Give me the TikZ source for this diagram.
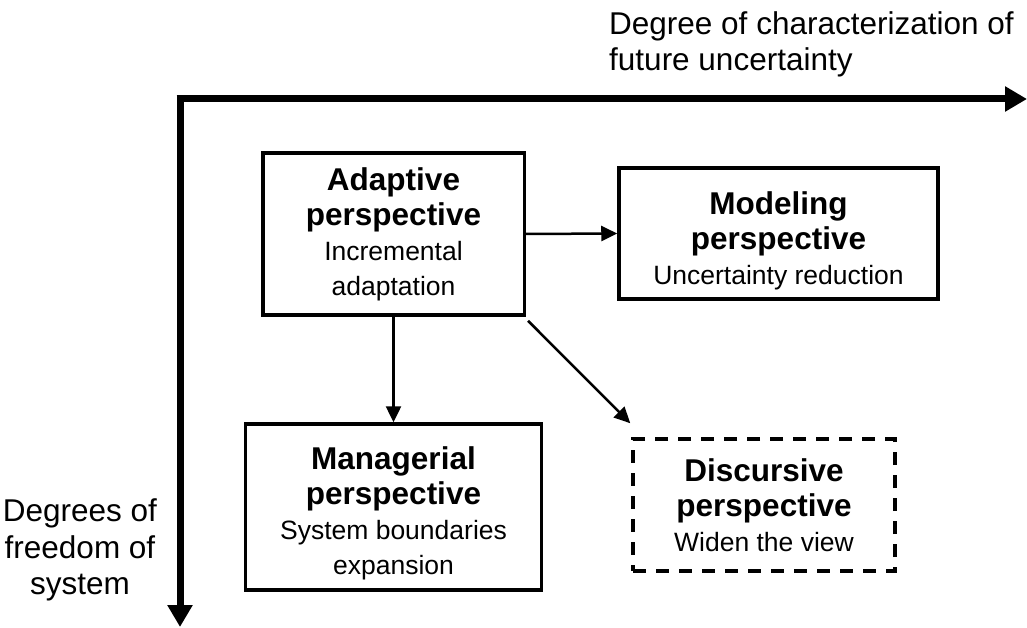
\documentclass[tikz,border=0pt]{standalone}
\usepackage{fontspec}
\setmainfont{Liberation Sans}
\usetikzlibrary{arrows.meta}
\newcommand{\boxtitle}[1]{{\bfseries\fontsize{31.5}{35}\selectfont #1}}
\begin{document}
\begin{tikzpicture}[x=1pt,y=1pt,
  pbox/.style={draw, line width=3.5pt, inner sep=0pt, align=center,
    font=\fontsize{26.5}{35}\selectfont},
  dbox/.style={pbox, dash pattern=on 13pt off 10pt},
  axis/.style={line width=7pt, -{Triangle[length=22pt,width=24pt]}},
  link/.style={line width=2.5pt, -{Triangle[length=16pt,width=15pt]}},
  axlabel/.style={inner sep=0pt, font=\fontsize{31.5}{36.5}\selectfont}]
\useasboundingbox (0,0) rectangle (1027,627);
% axes
\coordinate (origin) at (180,528);
\coordinate (xend) at (1027,528);
\coordinate (yend) at (180,0);
\draw[axis] ([xshift=-3.5pt]origin) -- (xend);
\draw[axis] ([yshift=3.5pt]origin) -- (yend);
\node[axlabel, anchor=north west, align=left] (xlab) at (609,616)
  {Degree of characterization of\\future uncertainty};
\node[axlabel, anchor=north, align=center] (ylab) at (80,128)
  {Degrees of\\freedom of\\system};
% boxes
\node[pbox, minimum width=261.5pt, minimum height=162pt] (adapt) at (393.5,393)
  {\boxtitle{Adaptive}\\\boxtitle{perspective}\\Incremental\\adaptation};
\node[pbox, minimum width=319pt, minimum height=131pt] (model) at (778.5,393.5)
  {\rule{0pt}{38pt}\boxtitle{Modeling}\\\boxtitle{perspective}\\Uncertainty reduction};
\node[pbox, minimum width=296pt, minimum height=166pt] (manag) at (393.5,120)
  {\rule{0pt}{36pt}\boxtitle{Managerial}\\\boxtitle{perspective}\\System boundaries\\expansion};
\node[dbox, minimum width=262pt, minimum height=132pt] (disc) at (764,122)
  {\boxtitle{Discursive}\\\boxtitle{perspective}\\Widen the view};
% links
\draw[link] (adapt.east) -- (model.west);
\draw[link] (adapt.south) -- (manag.north);
\draw[link] ([shift={(2pt,-4pt)}]adapt.south east) -- ([shift={(-1pt,14pt)}]disc.north west);
\end{tikzpicture}
\end{document}
